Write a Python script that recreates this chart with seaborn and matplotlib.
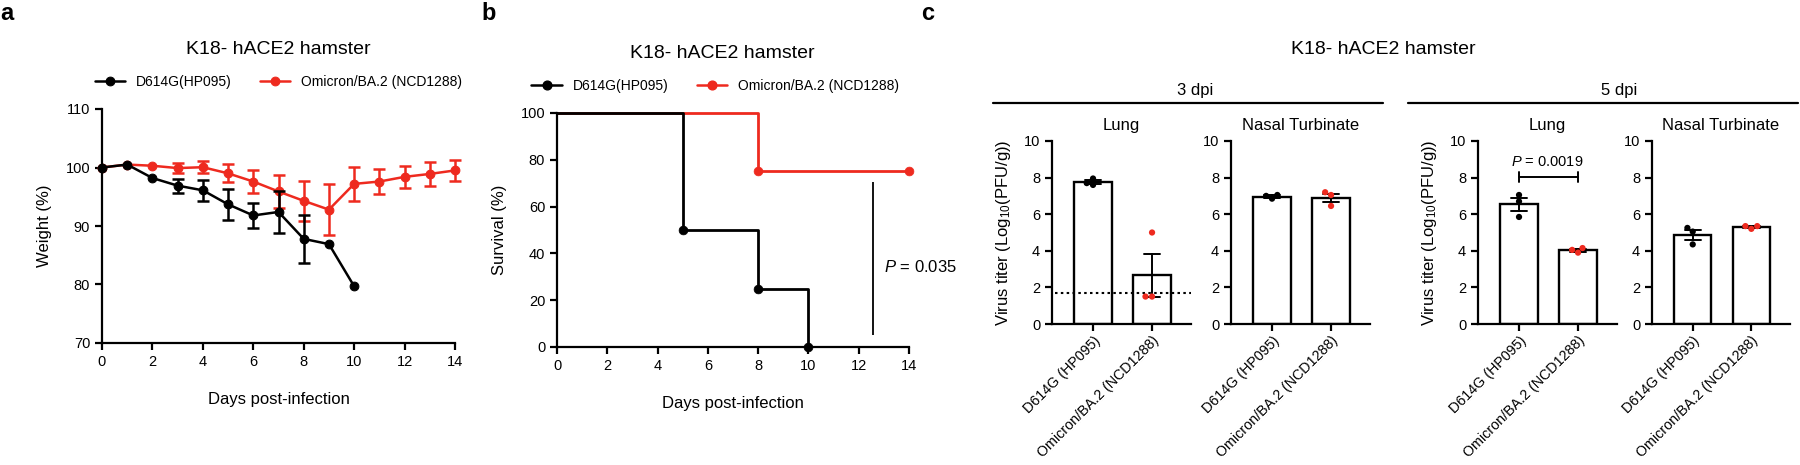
import numpy as np
import pandas as pd
import matplotlib
matplotlib.use("Agg")
import matplotlib.pyplot as plt
from matplotlib.lines import Line2D
import seaborn as sns

# ---------------- data ----------------
virus_labels = ["D614G(HP095)", "Omicron/BA.2 (NCD1288)"]
bar_categories = ["D614G (HP095)", "Omicron/BA.2 (NCD1288)"]

weight_days = list(range(15))
d614g_weight_mean = [100, 100.5, 98.2, 96.9, 96.1, 93.7, 91.8, 92.4, 87.8, 86.9, 79.7]
d614g_weight_sem = [0, 0, 0, 1.2, 1.75, 2.6, 2.2, 3.6, 4.1, 0, 0]
omicron_weight_mean = [100, 100.5, 100.3, 99.9, 100.05, 99.0, 97.6, 95.9, 94.3, 92.8,
                       97.2, 97.6, 98.4, 98.9, 99.5]
omicron_weight_sem = [0, 0, 0, 0.85, 1.0, 1.55, 2.0, 2.75, 3.45, 4.4, 2.9, 2.2, 1.85, 2.0, 1.8]

d614g_surv_days = [0, 5, 8, 10]
d614g_surv = [100, 50, 25, 0]
omicron_surv_days = [0, 8, 14]
omicron_surv = [100, 75, 75]
survival_p_text = "0.035"

titer_3dpi_lung_d614g = [7.6, 7.95, 7.7]
titer_3dpi_lung_omicron = [1.5, 5.0, 1.5]
titer_3dpi_nasal_d614g = [6.85, 7.05, 7.0]
titer_3dpi_nasal_omicron = [7.2, 6.45, 7.05]
titer_5dpi_lung_d614g = [5.85, 7.05, 6.7]
titer_5dpi_lung_omicron = [3.9, 4.15, 4.05]
titer_5dpi_nasal_d614g = [4.35, 5.25, 5.05]
titer_5dpi_nasal_omicron = [5.2, 5.35, 5.35]
detection_limit = 1.7
lung5_p_text = "0.0019"

# ---------------- style ----------------
sns.set_theme(style="ticks")
plt.rcParams["font.family"] = ["Liberation Sans", "DejaVu Sans"]
plt.rcParams["mathtext.fontset"] = "custom"
plt.rcParams["mathtext.rm"] = "Liberation Sans"
plt.rcParams["mathtext.it"] = "Liberation Sans:italic"
plt.rcParams["mathtext.bf"] = "Liberation Sans:bold"
plt.rcParams["axes.linewidth"] = 1.6
plt.rcParams["xtick.major.width"] = 1.6
plt.rcParams["ytick.major.width"] = 1.6
plt.rcParams["xtick.major.size"] = 5
plt.rcParams["ytick.major.size"] = 5
plt.rcParams["xtick.color"] = "black"
plt.rcParams["ytick.color"] = "black"
plt.rcParams["axes.edgecolor"] = "black"
plt.rcParams["text.color"] = "black"
plt.rcParams["axes.labelcolor"] = "black"

BLACK = "#000000"
RED = "#EE2A1F"

W, H = 1800, 465
fig = plt.figure(figsize=(18, 4.65), dpi=100)


def fx(px):
    return px / W


def fy(py):
    return 1 - py / H


def add_ax(l, t, r, b):
    return fig.add_axes([fx(l), fy(b), (r - l) / W, (b - t) / H])


# ---------------- panel a ----------------
ax_a = add_ax(102, 109, 455, 343)
wdf_o = pd.DataFrame({"day": weight_days[:len(omicron_weight_mean)], "w": omicron_weight_mean})
wdf_d = pd.DataFrame({"day": weight_days[:len(d614g_weight_mean)], "w": d614g_weight_mean})
for df_, sem_, col, lab in [(wdf_o, omicron_weight_sem, RED, virus_labels[1]),
                            (wdf_d, d614g_weight_sem, BLACK, virus_labels[0])]:
    sns.lineplot(data=df_, x="day", y="w", color=col, marker="o", markersize=6.3,
                 markeredgecolor=col, linewidth=1.8, label=lab, ax=ax_a, clip_on=False)
    sem_arr = np.array(sem_)
    mask = sem_arr > 0
    ax_a.errorbar(df_["day"].values[mask], df_["w"].values[mask], yerr=sem_arr[mask],
                  fmt="none", ecolor=col, elinewidth=1.8, capsize=4.5, capthick=1.8,
                  clip_on=False)
ax_a.set_xlim(0, 14)
ax_a.set_ylim(70, 110)
ax_a.set_xticks(range(0, 15, 2))
ax_a.set_yticks(range(70, 111, 10))
ax_a.tick_params(labelsize=10.5)
ax_a.set_xlabel("Days post-infection", fontsize=12, labelpad=17)
ax_a.set_ylabel("Weight (%)", fontsize=12, labelpad=10)
h, l = ax_a.get_legend_handles_labels()
ax_a.legend([h[1], h[0]], [l[1], l[0]], loc="center", bbox_to_anchor=(0.5, 1.115), ncol=2,
            frameon=False, fontsize=10, handlelength=2.2, columnspacing=2.0)
ax_a.text(0.5, 1.256, "K18- hACE2 hamster", transform=ax_a.transAxes, ha="center",
          va="center", fontsize=14)
sns.despine(ax=ax_a)

# ---------------- panel b ----------------
ax_b = add_ax(557, 113, 909, 347)
for days, surv, col, lab in [(omicron_surv_days, omicron_surv, RED, virus_labels[1]),
                             (d614g_surv_days, d614g_surv, BLACK, virus_labels[0])]:
    sdf = pd.DataFrame({"day": days, "s": surv})
    sns.lineplot(data=sdf, x="day", y="s", color=col, linewidth=2.0, drawstyle="steps-post",
                 ax=ax_b, clip_on=False, label=lab)
    sns.scatterplot(data=sdf.iloc[1:], x="day", y="s", color=col, s=40, edgecolor=col,
                    ax=ax_b, clip_on=False, zorder=5)
ax_b.set_xlim(0, 14)
ax_b.set_ylim(0, 100)
ax_b.set_xticks(range(0, 15, 2))
ax_b.set_yticks(range(0, 101, 20))
ax_b.tick_params(labelsize=10.5)
ax_b.set_xlabel("Days post-infection", fontsize=12, labelpad=17)
ax_b.set_ylabel("Survival (%)", fontsize=12, labelpad=10)
ax_b.vlines(12.56, 5, 70.5, color=BLACK, linewidth=1.3)
ax_b.text(13.0, 34, "$\\it{P}$ = " + survival_p_text, fontsize=12, ha="left", va="center")
legend_handles = [Line2D([0], [0], color=BLACK, marker="o", markersize=6.3, linewidth=1.8),
                  Line2D([0], [0], color=RED, marker="o", markersize=6.3, linewidth=1.8)]
ax_b.legend(legend_handles, virus_labels, loc="center", bbox_to_anchor=(0.45, 1.115), ncol=2,
            frameon=False, fontsize=10, handlelength=2.2, columnspacing=2.0)
ax_b.text(0.469, 1.256, "K18- hACE2 hamster", transform=ax_b.transAxes, ha="center",
          va="center", fontsize=14)
sns.despine(ax=ax_b)

# ---------------- panel c ----------------
panels_c = [
    (1052, 1191, "Lung", titer_3dpi_lung_d614g, titer_3dpi_lung_omicron, True),
    (1231, 1370, "Nasal Turbinate", titer_3dpi_nasal_d614g, titer_3dpi_nasal_omicron, False),
    (1478, 1617, "Lung", titer_5dpi_lung_d614g, titer_5dpi_lung_omicron, True),
    (1652, 1790, "Nasal Turbinate", titer_5dpi_nasal_d614g, titer_5dpi_nasal_omicron, False),
]
c_axes = []
for (l_px, r_px, title, d_vals, o_vals, is_lung) in panels_c:
    ax = add_ax(l_px, 141, r_px, 324)
    df = pd.DataFrame({
        "virus": [bar_categories[0]] * len(d_vals) + [bar_categories[1]] * len(o_vals),
        "titer": list(d_vals) + list(o_vals),
    })
    sns.barplot(data=df, x="virus", y="titer", order=bar_categories, errorbar="se",
                capsize=0.28, width=0.64, color="white", edgecolor="black", linewidth=1.7,
                err_kws={"color": "black", "linewidth": 1.4}, ax=ax)
    sns.swarmplot(data=df, x="virus", y="titer", hue="virus", order=bar_categories,
                  hue_order=bar_categories, palette=[BLACK, RED], size=4.5, legend=False,
                  ax=ax, zorder=5)
    ax.set_xlim(-0.695, 1.66)
    ax.set_ylim(0, 10)
    ax.set_yticks(range(0, 11, 2))
    ax.tick_params(axis="y", labelsize=10.5)
    ax.tick_params(axis="x", labelsize=10.3, pad=2)
    for lab in ax.get_xticklabels():
        lab.set_rotation(45)
        lab.set_ha("right")
        lab.set_rotation_mode("anchor")
    ax.set_xlabel("")
    if is_lung:
        ax.set_ylabel("Virus titer (Log$_{10}$(PFU/g))", fontsize=12, labelpad=8)
    else:
        ax.set_ylabel("")
    ax.text(0.5, 1.087, title, transform=ax.transAxes, ha="center", va="center", fontsize=12)
    sns.despine(ax=ax)
    c_axes.append(ax)

# detection limit on 3 dpi lung
c_axes[0].axhline(detection_limit, xmin=0.02, xmax=1.0, color=BLACK, linewidth=1.5,
                  linestyle=(0, (1.2, 1.6)), zorder=4)

# significance bracket on 5 dpi lung
ax5 = c_axes[2]
ax5.plot([0, 1], [8.05, 8.05], color=BLACK, linewidth=1.4)
ax5.plot([0, 0], [7.78, 8.32], color=BLACK, linewidth=1.4)
ax5.plot([1, 1], [7.78, 8.32], color=BLACK, linewidth=1.4)
ax5.text(0.47, 8.85, "$\\it{P}$ = " + lung5_p_text, ha="center", va="center", fontsize=10.5)

# group headers
fig.text(fx(1383), fy(50), "K18- hACE2 hamster", ha="center", va="center", fontsize=14)
fig.text(fx(1195), fy(90), "3 dpi", ha="center", va="center", fontsize=12)
fig.text(fx(1619), fy(90), "5 dpi", ha="center", va="center", fontsize=12)
fig.add_artist(Line2D([fx(993), fx(1383)], [fy(103), fy(103)], color=BLACK, linewidth=1.6))
fig.add_artist(Line2D([fx(1408), fx(1798)], [fy(103), fy(103)], color=BLACK, linewidth=1.6))

# panel letters
for letter, px in [("a", 7), ("b", 489), ("c", 928)]:
    fig.text(fx(px), fy(14), letter, ha="center", va="center", fontsize=17, fontweight="bold")

fig.savefig("out.png", dpi=100)
